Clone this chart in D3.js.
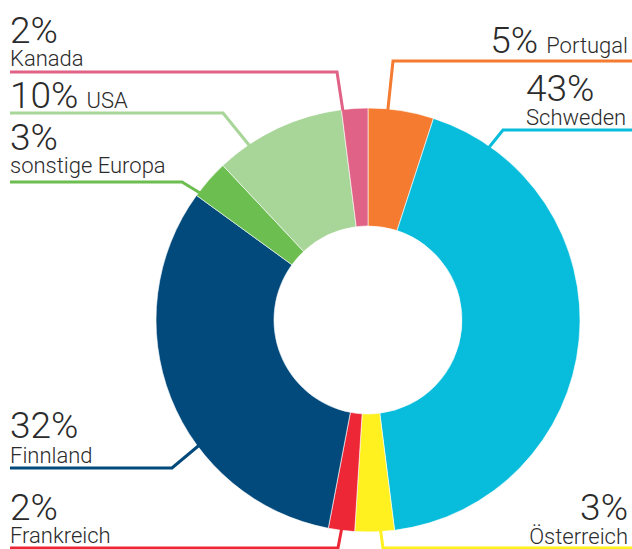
<!DOCTYPE html>
<html>
<head>
<meta charset="utf-8">
<script src="https://cdn.jsdelivr.net/npm/d3@7"></script>
<style>
  html, body { margin: 0; padding: 0; background: #fff; }
  svg { display: block; }
  text { font-family: Roboto, "DejaVu Sans", sans-serif; fill: #2b2b2b; }
</style>
</head>
<body>
<svg id="chart" width="632" height="549"></svg>
<script>
// ---- data ----
const categories = ["Portugal", "Schweden", "Österreich", "Frankreich", "Finnland", "sonstige Europa", "USA", "Kanada"];
const shares = [5, 43, 3, 2, 32, 3, 10, 2];
const pctLabels = ["5%", "43%", "3%", "2%", "32%", "3%", "10%", "2%"];
const colors = ["#F47B30", "#08BCDB", "#FFF01F", "#EE2737", "#034A7C", "#6CBE50", "#A8D598", "#E06286"];

// ---- layout (positions / styles only) ----
const W = 632, H = 549;
const cx = 368, cy = 320, rOuter = 212, rInner = 94;
// attach: fraction inside slice; elbow point; end x of horizontal; label placement
const layout = [
  { f: 0.30, elbow: [393, 61],  endX: 632, anchor: "end",   x: 628, pctY: 53,  nameY: 53,  inline: true },
  { f: 0.11, elbow: [503, 130], endX: 632, anchor: "start", x: 526, pctY: 101, nameY: 125, inline: false },
  { f: 0.35, elbow: [383, 548], endX: 632, anchor: "end",   x: 628, pctY: 520, nameY: 544, inline: false },
  { f: 0.50, elbow: [338, 548], endX: 10,  anchor: "start", x: 10,  pctY: 520, nameY: 543, inline: false },
  { f: 0.37, elbow: [172, 468], endX: 10,  anchor: "start", x: 10,  pctY: 438, nameY: 463, inline: false },
  { f: 0.10, elbow: [182, 182], endX: 10,  anchor: "start", x: 10,  pctY: 150, nameY: 173, inline: false },
  { f: 0.25, elbow: [223, 113], endX: 10,  anchor: "start", x: 10,  pctY: 108, nameY: 108, inline: true },
  { f: 0.05, elbow: [337, 72],  endX: 10,  anchor: "start", x: 10,  pctY: 43,  nameY: 66,  inline: false }
];

const svg = d3.select("#chart");
const data = categories.map((c, i) => ({ name: c, value: shares[i], pct: pctLabels[i], color: colors[i], lay: layout[i] }));

const pie = d3.pie().value(d => d.value).sort(null).startAngle(0).endAngle(2 * Math.PI);
const arcs = pie(data);
const arc = d3.arc().innerRadius(rInner).outerRadius(rOuter);

const g = svg.append("g").attr("transform", `translate(${cx},${cy})`);
g.selectAll("path.slice").data(arcs).join("path")
  .attr("class", "slice")
  .attr("d", arc)
  .attr("fill", d => d.data.color)
  .attr("stroke", "#fff")
  .attr("stroke-width", 0.6);

// leader lines
const lines = svg.append("g");
arcs.forEach(a => {
  const L = a.data.lay;
  const ang = a.startAngle + (a.endAngle - a.startAngle) * L.f;
  const p = d3.pointRadial(ang, rOuter - 1);
  const pts = [[cx + p[0], cy + p[1]], L.elbow, [L.endX, L.elbow[1]]];
  lines.append("path")
    .attr("d", d3.line()(pts))
    .attr("fill", "none")
    .attr("stroke", a.data.color)
    .attr("stroke-width", 3)
    .attr("stroke-linejoin", "miter");
});

// labels
const labels = svg.append("g");
arcs.forEach(a => {
  const L = a.data.lay;
  if (L.inline) {
    const t = labels.append("text")
      .attr("x", L.x).attr("y", L.pctY)
      .attr("text-anchor", L.anchor);
    t.append("tspan").attr("font-size", 37).attr("font-weight", 300).text(a.data.pct);
    t.append("tspan").attr("font-size", 22).attr("font-weight", 300).attr("dx", 8).text(a.data.name);
  } else {
    labels.append("text")
      .attr("x", L.x).attr("y", L.pctY)
      .attr("text-anchor", L.anchor)
      .attr("font-size", 37).attr("font-weight", 300)
      .text(a.data.pct);
    labels.append("text")
      .attr("x", L.x).attr("y", L.nameY)
      .attr("text-anchor", L.anchor)
      .attr("font-size", 22).attr("font-weight", 300)
      .text(a.data.name);
  }
});
</script>
</body>
</html>
